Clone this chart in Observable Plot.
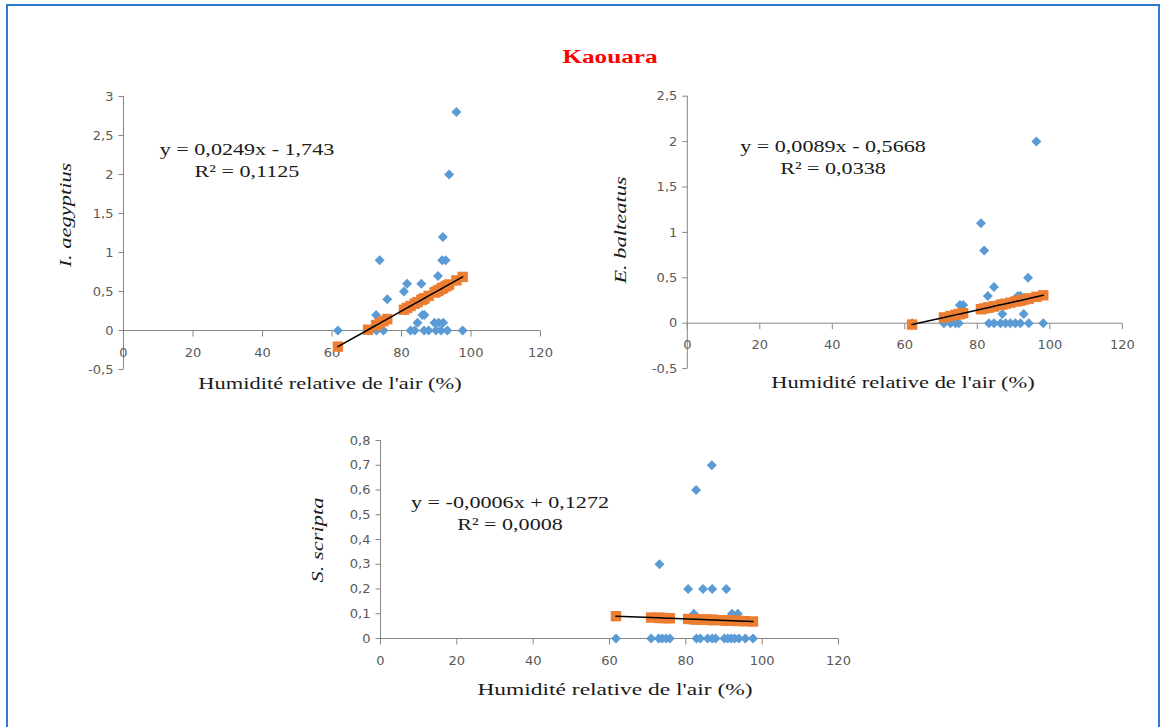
<!DOCTYPE html>
<html>
<head>
<meta charset="utf-8">
<script src="https://cdn.jsdelivr.net/npm/d3@7"></script>
<script src="https://cdn.jsdelivr.net/npm/@observablehq/plot@0.6"></script>
<style>
  html, body { margin: 0; padding: 0; background: #fff; }
  #root { position: relative; width: 1167px; height: 727px; overflow: hidden; background: #fff; }
  .frame { position: absolute; left: 6px; top: 4px; width: 1154px; height: 740px; border: 2px solid #2E7BCF; box-sizing: border-box; }
  .panel { position: absolute; }
  .t { position: absolute; font-family: "Liberation Serif", "Times New Roman", serif; color: #1a1a1a; white-space: nowrap; }
  .eq { font-size: 17px; line-height: 22px; text-align: center; transform: translate(-50%, -50%) scaleX(1.3); }
  .xt { font-size: 17px; transform: translate(-50%, -50%) scaleX(1.32); }
  .xt3 { font-size: 17px; transform: translate(-50%, -50%) scaleX(1.38); }
  .yt { font-size: 17px; font-style: italic; transform: translate(-50%, -50%) rotate(-90deg) scaleX(1.32); }
  .title { font-size: 18px; font-weight: bold; color: #FF0000; transform: translate(-50%, -50%) scaleX(1.4); }
</style>
</head>
<body>
<div id="root">
  <div class="frame"></div>
</div>
<script>
// ---------- Data ----------
const title = "Kaouara";
const xTitle = "Humidité relative de l'air (%)";
const speciesNames = ["I. aegyptius", "E. balteatus", "S. scripta"];
const equations = ["y = 0,0249x - 1,743", "y = 0,0089x - 0,5668", "y = -0,0006x + 0,1272"];
const r2Labels = ["R² = 0,1125", "R² = 0,0338", "R² = 0,0008"];
const slopes = [0.0249, 0.0089, -0.0006];
const intercepts = [-1.743, -0.5668, 0.1272];

const xTicks = [0, 20, 40, 60, 80, 100, 120];
const yTicks1 = [-0.5, 0, 0.5, 1, 1.5, 2, 2.5, 3];
const yTicks2 = [-0.5, 0, 0.5, 1, 1.5, 2, 2.5];
const yTicks3 = [0, 0.1, 0.2, 0.3, 0.4, 0.5, 0.6, 0.7, 0.8];

// I. aegyptius
const hum1 = [61.7, 70.4, 72.8, 74.8, 82.6, 83.8, 86.5, 87.8, 89.9, 91.4, 93.2, 97.6,
              95.8, 93.7, 91.9, 91.7, 92.7, 73.7, 90.5, 81.6, 85.7, 80.7, 75.9, 72.7, 86.0, 86.6, 84.6, 89.5, 90.7, 92.0];
const val1 = [0, 0, 0, 0, 0, 0, 0, 0, 0, 0, 0, 0,
              2.8, 2.0, 1.2, 0.9, 0.9, 0.9, 0.7, 0.6, 0.6, 0.5, 0.4, 0.2, 0.2, 0.2, 0.1, 0.1, 0.1, 0.1];

// E. balteatus
const hum2 = [62.0, 70.8, 72.6, 74.0, 74.9, 83.2, 84.6, 86.4, 87.8, 89.1, 90.5, 91.9, 94.2, 98.2,
              96.3, 81.0, 81.9, 94.0, 84.6, 82.9, 91.2, 91.9, 75.2, 76.1, 86.9, 92.8];
const val2 = [0, 0, 0, 0, 0, 0, 0, 0, 0, 0, 0, 0, 0, 0,
              2.0, 1.1, 0.8, 0.5, 0.4, 0.3, 0.3, 0.3, 0.2, 0.2, 0.1, 0.1];

// S. scripta
const hum3 = [61.7, 70.9, 72.9, 73.8, 74.8, 75.8, 82.8, 83.8, 85.7, 86.9, 87.8, 90.1, 91.0, 91.9, 92.8, 93.9, 95.6, 97.6,
              86.8, 82.7, 73.1, 80.6, 84.5, 86.9, 90.6, 82.1, 92.1, 93.6];
const val3 = [0, 0, 0, 0, 0, 0, 0, 0, 0, 0, 0, 0, 0, 0, 0, 0, 0, 0,
              0.7, 0.6, 0.3, 0.2, 0.2, 0.2, 0.2, 0.1, 0.1, 0.1];

// ---------- Drawing ----------
const BLUE = "#5B9BD5", ORANGE = "#ED7D31", AXIS = "#868686", LABEL = "#595959";
const diamond = { draw(ctx) { const h = 5; ctx.moveTo(0, -h); ctx.lineTo(h, 0); ctx.lineTo(0, h); ctx.lineTo(-h, 0); ctx.closePath(); } };
const square = { draw(ctx) { const h = 5.2; ctx.rect(-h, -h, 2 * h, 2 * h); } };
const vTick = { draw(ctx) { ctx.moveTo(0, 0); ctx.lineTo(0, 6); } };
const hTick = { draw(ctx) { ctx.moveTo(0, 0); ctx.lineTo(-5, 0); } };
const fmt = d => String(d).replace(".", ",");

const panels = [
  { hum: hum1, val: val1, yTicks: yTicks1, yDomain: [-0.5, 3], left: 60, top: 80, width: 500, height: 300,
    mL: 63, mR: 20, mT: 16, mB: 11 },
  { hum: hum2, val: val2, yTicks: yTicks2, yDomain: [-0.5, 2.5], left: 620, top: 80, width: 520, height: 300,
    mL: 66.8, mR: 18.2, mT: 15.7, mB: 11.9 },
  { hum: hum3, val: val3, yTicks: yTicks3, yDomain: [0, 0.8], left: 320, top: 425, width: 540, height: 250,
    mL: 60, mR: 22, mT: 15, mB: 37 }
];

const root = document.getElementById("root");

panels.forEach((p, k) => {
  const pts = p.hum.map((h, i) => ({ x: h, y: p.val[i] }));
  const fit = p.hum.map(h => ({ x: h, y: slopes[k] * h + intercepts[k] })).sort((a, b) => a.x - b.x);
  const chart = Plot.plot({
    width: p.width, height: p.height,
    marginLeft: p.mL, marginRight: p.mR, marginTop: p.mT, marginBottom: p.mB,
    x: { domain: [0, 120], axis: null },
    y: { domain: p.yDomain, axis: null },
    style: { fontFamily: "'DejaVu Sans', sans-serif", fontSize: "13px", background: "transparent", overflow: "visible" },
    marks: [
      Plot.ruleX([0], { stroke: AXIS, strokeWidth: 1 }),
      Plot.ruleY([0], { stroke: AXIS, strokeWidth: 1 }),
      Plot.dot(xTicks, { x: d => d, y: d => 0, symbol: vTick, stroke: AXIS, fill: "none", strokeWidth: 1 }),
      Plot.dot(p.yTicks, { x: d => 0, y: d => d, symbol: hTick, stroke: AXIS, fill: "none", strokeWidth: 1 }),
      Plot.text(xTicks, { x: d => d, y: d => 0, text: d => fmt(d), dy: 22, fill: LABEL }),
      Plot.text(p.yTicks, { x: d => 0, y: d => d, text: d => fmt(d), textAnchor: "end", dx: -10, fill: LABEL }),
      Plot.dot(pts, { x: "x", y: "y", symbol: diamond, fill: BLUE, stroke: "none" }),
      Plot.dot(fit, { x: "x", y: "y", symbol: square, fill: ORANGE, stroke: "none" }),
      Plot.line(fit, { x: "x", y: "y", stroke: "#000", strokeWidth: 1.5 })
    ]
  });
  const div = document.createElement("div");
  div.className = "panel";
  div.style.left = p.left + "px";
  div.style.top = p.top + "px";
  div.appendChild(chart);
  root.appendChild(div);
});

function addText(cls, html, x, y) {
  const d = document.createElement("div");
  d.className = "t " + cls;
  d.innerHTML = html;
  d.style.left = x + "px";
  d.style.top = y + "px";
  root.appendChild(d);
}

addText("title", title, 610, 57);
const eqPos = [[247, 161], [833, 158], [510, 514]];
equations.forEach((e, k) => addText("eq", e + "<br>" + r2Labels[k], eqPos[k][0], eqPos[k][1]));
const xtPos = [[330, 384], [903, 383], [615, 690]];
xtPos.forEach(([x, y], k) => addText(k === 2 ? "xt3" : "xt", xTitle, x, y));
const ytPos = [[66, 215], [621, 230], [318, 540]];
speciesNames.forEach((s, k) => addText("yt", s, ytPos[k][0], ytPos[k][1]));
</script>
</body>
</html>
